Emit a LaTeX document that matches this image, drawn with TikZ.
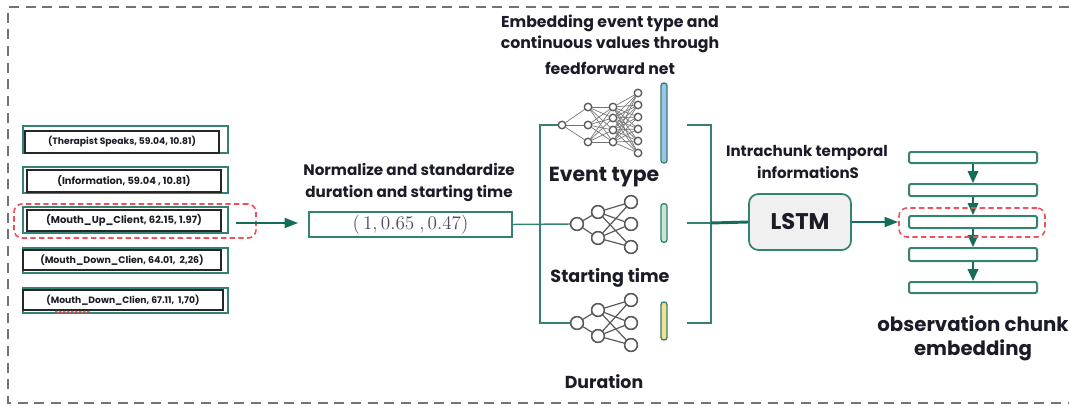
\documentclass[tikz,border=0pt]{standalone}
\usepackage{fontspec}
\setmainfont{Poppins}
\usetikzlibrary{arrows.meta,decorations.pathmorphing,fit}
\definecolor{tealln}{RGB}{52,130,114}
\definecolor{tealdk}{RGB}{20,108,90}
\definecolor{redd}{RGB}{240,80,90}
\definecolor{txt}{RGB}{28,28,40}
\definecolor{netgray}{RGB}{90,90,90}
\definecolor{barblue}{RGB}{157,195,230}
\definecolor{bargreen}{RGB}{200,228,210}
\definecolor{baryellow}{RGB}{245,222,140}
\tikzset{
  fs/.style={font=\fontsize{#1}{#1}\selectfont\bfseries, text=txt},
  backbox/.style={draw=tealln, line width=1.6pt, inner sep=0pt},
  frontbox/.style={draw=black!85, line width=0.8pt, fill=white, inner sep=0pt},
  selbox/.style={draw=redd, dashed, dash pattern=on 4pt off 2.5pt, line width=1.2pt, rounded corners=6pt},
  conn/.style={draw=tealln, line width=1.1pt},
  arr/.style={draw=tealdk, line width=1.2pt, -{Triangle[length=10pt,width=7.5pt]}},
  sarr/.style={draw=tealdk, line width=1.2pt, -{Triangle[length=9pt,width=8pt]}},
  neuA/.style={circle, draw=netgray, line width=0.9pt, fill=white, inner sep=0pt, minimum size=5.5pt},
  neuB/.style={circle, draw=netgray, line width=1.1pt, fill=white, inner sep=0pt, minimum size=9.5pt},
  wire/.style={draw=netgray!85, line width=0.5pt},
  wireB/.style={draw=netgray, line width=0.9pt},
  bar/.style={draw=tealln, line width=1pt, rounded corners=2pt, inner sep=0pt, minimum width=4.5pt},
  stackbox/.style={draw=tealln, line width=1.5pt, rounded corners=1.5pt, inner sep=0pt},
}
\begin{document}
\begin{tikzpicture}[x=0.75pt,y=-0.75pt]
\useasboundingbox (0,0) rectangle (1069,406);
% outer dashed frame (open on the right)
\draw[draw=black!55, line width=1.1pt, dash pattern=on 7.5pt off 5pt] (1069,7) -- (8,7) -- (8,403) -- (1069,403);

% ---- left input boxes ----
\node[backbox, fit={(23,126) (228,153)}] (t1) {};
\node[frontbox, fit={(25,131) (219,153)}] (b1) {};
\node[fs=6.9] (x1) at (b1.center) {(Therapist Speaks, 59.04, 10.81)};
\node[backbox, fit={(23,167) (228,193)}] (t2) {};
\node[frontbox, fit={(27,170) (221,192)}] (b2) {};
\node[fs=7.4] (x2) at (b2.center) {(Information, 59.04 , 10.81)};
\node[backbox, fit={(23,207) (228,233)}] (t3) {};
\node[frontbox, fit={(27,210) (221,231)}] (b3) {};
\node[fs=7.5] (x3) at (b3.center) {(Mouth\_Up\_Client, 62.15, 1.97)};
\node[backbox, fit={(23,248) (228,273)}] (t4) {};
\node[frontbox, fit={(23,250) (221,270)}] (b4) {};
\node[fs=7.1] (x4) at (b4.center) {(Mouth\_Down\_Clien, 64.01,\ \ 2,26)};
\node[backbox, fit={(23,288) (228,313)}] (t5) {};
\node[frontbox, fit={(23,290) (223,310)}] (b5) {};
\node[fs=6.9] (x5) at (b5.center) {(Mouth\_Down\_Clien, 67.11,\ \ 1,70)};
\draw[redd, line width=0.6pt, decorate, decoration={snake, amplitude=0.7pt, segment length=3pt}] (55,312) -- (90,312);
\node[selbox, fit={(14,204) (256,238)}, inner sep=0pt] (sel) {};

% arrow to normalised box
\coordinate (a1s) at (236,223);
\coordinate (a1e) at (298,223);
\draw[arr] (a1s) -- (a1e);

% normalise label and box
\node[fs=11.4] (nl1) at (409,169) {Normalize and standardize};
\node[fs=11.4] (nl2) at (409,194) {duration and starting time};
\node[draw=tealln, line width=1.6pt, inner sep=0pt, fit={(309,212) (512,237)}] (norm) {};
\node[font=\fontsize{14}{14}\selectfont, text={rgb,255:red,80;green,70;blue,100}] (normtxt) at (norm.center) {$(\,1, 0.65\ , 0.47)$};

% ---- network 1 : event type ----
\foreach \y [count=\i] in {125} \node[neuA] (p1-\i) at (562,\y) {};
\foreach \y [count=\i] in {107,125,142} \node[neuA] (p2-\i) at (588,\y) {};
\foreach \y [count=\i] in {107,118,130,142} \node[neuA] (p3-\i) at (613,\y) {};
\foreach \y [count=\i] in {93,105,117,129,141,153} \node[neuA] (p4-\i) at (638,\y) {};
\foreach \j in {1,2,3} \draw[wire] (p1-1) -- (p2-\j);
\foreach \i in {1,2,3} \foreach \j in {1,...,4} \draw[wire] (p2-\i) -- (p3-\j);
\foreach \i in {1,...,4} \foreach \j in {1,...,6} \draw[wire] (p3-\i) -- (p4-\j);
% redraw neurons on top
\foreach \y in {125} \node[neuA] at (562,\y) {};
\foreach \y in {107,125,142} \node[neuA] at (588,\y) {};
\foreach \y in {107,118,130,142} \node[neuA] at (613,\y) {};
\foreach \y in {93,105,117,129,141,153} \node[neuA] at (638,\y) {};

% ---- network 2 : starting time ----
\node[neuB] (q1) at (577,224) {};
\node[neuB] (q21) at (598,212) {};
\node[neuB] (q22) at (598,238) {};
\node[neuB] (q31) at (631,202) {};
\node[neuB] (q32) at (631,224) {};
\node[neuB] (q33) at (631,247) {};
\draw[wireB] (q1) -- (q21); \draw[wireB] (q1) -- (q22);
\foreach \a in {q21,q22} \foreach \b in {q31,q32,q33} \draw[wireB] (\a) -- (\b);
\foreach \x/\y in {577/224,598/212,598/238,631/202,631/224,631/247} \node[neuB] at (\x,\y) {};

% ---- network 3 : duration ----
\node[neuB] (r1) at (577,323) {};
\node[neuB] (r21) at (598,310) {};
\node[neuB] (r22) at (598,336) {};
\node[neuB] (r31) at (631,300) {};
\node[neuB] (r32) at (631,323) {};
\node[neuB] (r33) at (631,345) {};
\draw[wireB] (r1) -- (r21); \draw[wireB] (r1) -- (r22);
\foreach \a in {r21,r22} \foreach \b in {r31,r32,r33} \draw[wireB] (\a) -- (\b);
\foreach \x/\y in {577/323,598/310,598/336,631/300,631/323,631/345} \node[neuB] at (\x,\y) {};

% ---- embedding bars ----
\node[bar, fill=barblue, minimum height=60pt] (bar1) at (664,123) {};
\node[bar, fill=bargreen, minimum height=29pt] (bar2) at (664,223) {};
\node[bar, fill=baryellow, minimum height=28.5pt] (bar3) at (664,321) {};

% ---- left bracket ----
\coordinate (bl) at (540,224);
\draw[conn] (norm.east) -- (q1.west);
\draw[conn] (p1-1.west) -| (bl) |- (r1.west);

% ---- right bracket ----
\coordinate (c1) at (687,125);
\coordinate (c2) at (687,223);
\coordinate (c3) at (687,323);
\coordinate (br) at (711,223);
\node[draw=tealln, line width=1.3pt, fill=black!6, rounded corners=7pt, fit={(749,194) (851,250)}, inner sep=0pt] (lstm) {};
\node[fs=17] (lstmtxt) at (lstm.center) {LSTM};
\draw[conn, line width=1.3pt] (c1) -| (br) |- (c3);
\draw[conn, line width=1.3pt] (c2) -- (br);
\draw[draw=tealdk, line width=2.2pt] (br) -- (lstm.west);

% ---- labels ----
\node[fs=11.8] (et1) at (610,23) {Embedding event type and};
\node[fs=11.8] (et2) at (610,44) {continuous values through};
\node[fs=11.8] (et3) at (610,68) {feedforward net};
\node[fs=15.3] (lb1) at (604,177) {Event type};
\node[fs=13.2] (lb2) at (610,278) {Starting time};
\node[fs=13] (lb3) at (604,382) {Duration};
\node[fs=11.3] (ic1) at (807,153) {Intrachunk temporal};
\node[fs=11.3] (ic2) at (808,173) {informationS};

% ---- LSTM to stack ----
\coordinate (a2e) at (898,222);
\draw[arr] (lstm.east) -- (a2e);

% ---- stack of chunk embeddings ----
\node[stackbox, fit={(909,152) (1037,163)}] (s1) {};
\node[stackbox, fit={(909,184) (1037,196)}] (s2) {};
\node[stackbox, fit={(909,216) (1037,228)}] (s3) {};
\node[stackbox, fit={(909,248) (1037,261)}] (s4) {};
\node[stackbox, fit={(909,282) (1037,293)}] (s5) {};
\draw[sarr] (s1.south) -- (s2.north);
\draw[sarr] (s2.south) -- (s3.north);
\draw[sarr] (s3.south) -- (s4.north);
\draw[sarr] (s4.south) -- (s5.north);
\node[selbox, fit={(899,208) (1045,237)}, inner sep=0pt] (sel2) {};
\node[fs=14.8] (oc1) at (973,324) {observation chunk};
\node[fs=14.8] (oc2) at (973,350) {embedding};
\end{tikzpicture}
\end{document}
